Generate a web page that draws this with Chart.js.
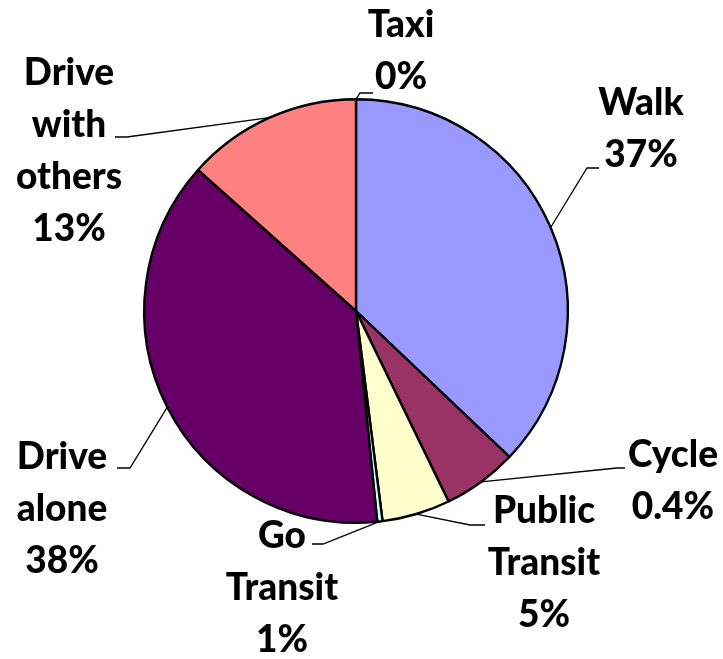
<!DOCTYPE html>
<html>
<head>
<meta charset="utf-8">
<script src="https://cdn.jsdelivr.net/npm/chart.js@4"></script>
<style>
  html, body { margin: 0; padding: 0; background: #fff; }
  #wrap { width: 723px; height: 659px; }
</style>
</head>
<body>
<div id="wrap"><canvas id="pie" width="723" height="659"></canvas></div>
<script>
// slices, clockwise from 12 o'clock (sizes)
const categories = ['Taxi', 'Walk', 'Cycle', 'Public Transit', 'Go Transit', 'Drive alone', 'Drive with others'];
const shares = [0, 37.1, 5.7, 5.2, 0.4, 38.2, 13.4];
// label text as printed on the chart
const labelLines = [
  ['Taxi', '0%'],
  ['Walk', '37%'],
  ['Cycle', '0.4%'],
  ['Public', 'Transit', '5%'],
  ['Go', 'Transit', '1%'],
  ['Drive', 'alone', '38%'],
  ['Drive', 'with', 'others', '13%'],
];
const colors = ['#0066CC', '#9999FF', '#993366', '#FFFFCC', '#CCFFFF', '#660066', '#FF8080'];

// label placement: text centre x, first baseline y, leader elbow and end
const labelLayout = [
  { x: 401, y: 37,  elbow: [360, 93],  end: [373, 93] },
  { x: 641, y: 115, elbow: [587, 168], end: [599, 168] },
  { x: 673, y: 467, elbow: [617, 468], end: [625, 468] },
  { x: 544, y: 523, elbow: [470, 525], end: [485, 525] },
  { x: 282, y: 548, elbow: [323, 544], end: [312, 544] },
  { x: 62,  y: 469, elbow: [130, 468], end: [117, 468] },
  { x: 69,  y: 85,  elbow: [127, 137], end: [115, 137] },
];

const outsideLabels = {
  id: 'outsideLabels',
  afterDatasetsDraw(chart) {
    const ctx = chart.ctx;
    const arcs = chart.getDatasetMeta(0).data;
    ctx.save();
    ctx.strokeStyle = '#000';
    ctx.lineWidth = 1.3;
    arcs.forEach((arc, i) => {
      const mid = (arc.startAngle + arc.endAngle) / 2;
      const ax = arc.x + Math.cos(mid) * arc.outerRadius;
      const ay = arc.y + Math.sin(mid) * arc.outerRadius;
      const L = labelLayout[i];
      ctx.beginPath();
      ctx.moveTo(ax, ay);
      ctx.lineTo(L.elbow[0], L.elbow[1]);
      ctx.lineTo(L.end[0], L.end[1]);
      ctx.stroke();
    });
    ctx.fillStyle = '#000';
    ctx.font = '900 37px Lato';
    ctx.textAlign = 'center';
    ctx.textBaseline = 'alphabetic';
    labelLines.forEach((lines, i) => {
      const L = labelLayout[i];
      lines.forEach((t, j) => ctx.fillText(t, L.x, L.y + j * 52));
    });
    ctx.restore();
  }
};

new Chart(document.getElementById('pie'), {
  type: 'pie',
  data: {
    labels: categories,
    datasets: [{
      data: shares,
      backgroundColor: colors,
      borderColor: '#000',
      borderWidth: 2.4,
    }]
  },
  options: {
    responsive: false,
    animation: false,
    events: [],
    layout: { padding: { top: 98, bottom: 135, left: 143, right: 154 } },
    plugins: {
      legend: { display: false },
      tooltip: { enabled: false },
    }
  },
  plugins: [outsideLabels]
});
</script>
</body>
</html>
